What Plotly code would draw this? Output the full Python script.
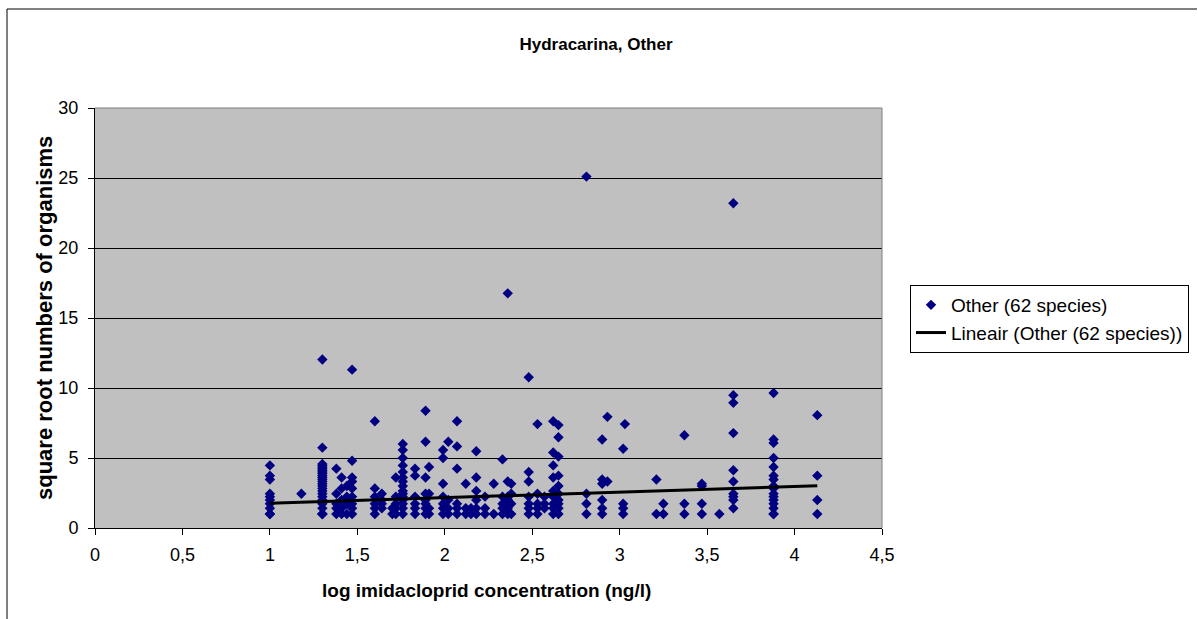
import plotly.graph_objects as go

# ---- data (log imidacloprid concentration, sqrt numbers of organisms) ----
x_log = (
    [1.0] * 10 + [1.18] + [1.3] * 25 + [1.38] * 5 + [1.41] * 5 + [1.44] * 4 + [1.47] * 9
    + [1.6] * 6 + [1.64] * 4 + [1.7] * 2 + [1.72] * 5 + [1.76] * 15 + [1.83] * 6
    + [1.89] * 8 + [1.91] * 4 + [1.99] * 7 + [2.02] * 4 + [2.07] * 6 + [2.12] * 3
    + [2.15] * 2 + [2.18] * 6 + [2.23] * 3 + [2.28] * 2 + [2.33] * 5 + [2.36] * 7
    + [2.38] * 4 + [2.48] * 7 + [2.53] * 5 + [2.57] * 3 + [2.62] * 9 + [2.65] * 10
    + [2.81] * 4 + [2.90] * 6 + [2.93] * 2 + [3.02] * 4 + [3.03] * 1 + [3.21] * 2
    + [3.25] * 2 + [3.37] * 3 + [3.47] * 4 + [3.57] * 1 + [3.65] * 10 + [3.88] * 16
    + [4.13] * 4
)
y_sqrt = [
    4.47, 3.74, 3.46, 2.45, 2.24, 2.0, 1.73, 1.41, 1.0, 1.0,                 # 1.0
    2.45,                                                                    # 1.18
    12.04, 5.74, 4.58, 4.47, 4.36, 4.24, 4.12, 4.0, 3.87, 3.74, 3.61, 3.46,
    3.32, 3.16, 3.0, 2.83, 2.65, 2.45, 2.24, 2.0, 1.73, 1.41, 1.0, 1.0, 1.0,  # 1.3
    4.24, 2.45, 1.73, 1.41, 1.0,                                             # 1.38
    3.61, 2.83, 2.0, 1.41, 1.0,                                              # 1.41
    3.0, 2.24, 1.73, 1.0,                                                    # 1.44
    11.31, 4.8, 3.61, 3.32, 2.83, 2.24, 1.73, 1.41, 1.0,                     # 1.47
    7.62, 2.83, 2.24, 1.73, 1.41, 1.0,                                       # 1.6
    2.45, 2.0, 1.73, 1.41,                                                   # 1.64
    1.41, 1.0,                                                               # 1.7
    3.61, 2.24, 1.73, 1.41, 1.0,                                             # 1.72
    6.0, 5.57, 5.0, 4.47, 4.0, 3.61, 3.32, 3.0, 2.65, 2.45, 2.24, 2.0,
    1.73, 1.41, 1.0,                                                         # 1.76
    4.24, 3.74, 2.24, 1.73, 1.41, 1.0,                                       # 1.83
    8.37, 6.16, 3.61, 2.45, 2.0, 1.73, 1.41, 1.0,                            # 1.89
    4.36, 2.45, 1.41, 1.0,                                                   # 1.91
    5.57, 5.0, 3.16, 2.24, 1.73, 1.41, 1.0,                                  # 1.99
    6.16, 2.0, 1.41, 1.0,                                                    # 2.02
    7.62, 5.83, 4.24, 1.73, 1.41, 1.0,                                       # 2.07
    3.16, 1.41, 1.0,                                                         # 2.12
    1.41, 1.0,                                                               # 2.15
    5.48, 3.61, 2.65, 2.0, 1.41, 1.0,                                        # 2.18
    2.24, 1.41, 1.0,                                                         # 2.23
    3.16, 1.0,                                                               # 2.28
    4.9, 2.24, 1.73, 1.41, 1.0,                                              # 2.33
    16.76, 3.32, 2.24, 2.0, 1.73, 1.41, 1.0,                                 # 2.36
    3.16, 2.45, 1.73, 1.0,                                                   # 2.38
    10.77, 4.0, 3.32, 2.24, 1.73, 1.41, 1.0,                                 # 2.48
    7.42, 2.45, 1.73, 1.41, 1.0,                                             # 2.53
    2.24, 1.73, 1.41,                                                        # 2.57
    7.62, 5.39, 4.47, 3.61, 2.65, 2.24, 1.73, 1.41, 1.0,                     # 2.62
    7.35, 6.48, 5.1, 3.74, 3.0, 2.45, 2.0, 1.73, 1.41, 1.0,                  # 2.65
    25.1, 2.45, 1.73, 1.0,                                                   # 2.81
    6.32, 3.46, 3.16, 2.0, 1.41, 1.0,                                        # 2.90
    7.94, 3.32,                                                              # 2.93
    5.66, 1.73, 1.41, 1.0,                                                   # 3.02
    7.42,                                                                    # 3.03
    3.46, 1.0,                                                               # 3.21
    1.73, 1.0,                                                               # 3.25
    6.63, 1.73, 1.0,                                                         # 3.37
    3.16, 3.0, 1.73, 1.0,                                                    # 3.47
    1.0,                                                                     # 3.57
    23.2, 9.49, 8.94, 6.78, 4.12, 3.32, 2.45, 2.24, 2.0, 1.41,               # 3.65
    9.64, 6.32, 6.08, 5.0, 4.36, 3.74, 3.46, 3.0, 2.83, 2.45, 2.24, 2.0,
    1.73, 1.41, 1.0, 1.0,                                                    # 3.88
    8.06, 3.74, 2.0, 1.0,                                                    # 4.13
]

trend_x = [1.0, 4.13]
trend_y = [1.76, 3.02]

x_tick_vals = [0, 0.5, 1, 1.5, 2, 2.5, 3, 3.5, 4, 4.5]
x_tick_text = ["0", "0,5", "1", "1,5", "2", "2,5", "3", "3,5", "4", "4,5"]
y_tick_vals = [0, 5, 10, 15, 20, 25, 30]

series_name = "Other (62 species)"
trend_name = "Lineair (Other (62 species))"
chart_title = "Hydracarina, Other"
x_title = "log imidacloprid concentration (ng/l)"
y_title = "square root numbers of organisms"

FONT = "Liberation Sans, Arial, sans-serif"

fig = go.Figure()
fig.add_trace(go.Scatter(
    x=x_log, y=y_sqrt, mode="markers", name=series_name,
    marker=dict(symbol="diamond", size=8, color="#000080",
                line=dict(width=0)),
))
fig.add_trace(go.Scatter(
    x=trend_x, y=trend_y, mode="lines", name=trend_name,
    line=dict(color="black", width=3),
))

fig.update_layout(
    width=1198, height=619,
    margin=dict(l=95, r=316, t=108, b=91, autoexpand=False),
    paper_bgcolor="white",
    plot_bgcolor="#C0C0C0",
    font=dict(family=FONT, size=18, color="black"),
    title=dict(text="<b>" + chart_title + "</b>", x=596 / 1198, xref="container",
               xanchor="center", y=1 - 44 / 619, yref="container",
               yanchor="middle", font=dict(size=17, family=FONT)),
    showlegend=True,
    legend=dict(x=(910 - 95) / 787, xanchor="left", y=(528 - 285) / 420,
                yanchor="top", bgcolor="white", bordercolor="black",
                borderwidth=1, font=dict(size=19, family=FONT),
                tracegroupgap=0, itemwidth=30),
    xaxis=dict(range=[0, 4.5], tickvals=x_tick_vals, ticktext=x_tick_text,
               showgrid=False, zeroline=False, showline=True,
               linecolor="black", linewidth=1, ticks="outside", ticklen=6,
               tickcolor="black", ticklabelstandoff=4,
               tickfont=dict(size=18)),
    yaxis=dict(range=[0, 30], tickvals=y_tick_vals, showgrid=True,
               gridcolor="black", gridwidth=1, zeroline=False, showline=True,
               linecolor="black", linewidth=1, ticks="outside", ticklen=6,
               tickcolor="black", ticklabelstandoff=6,
               tickfont=dict(size=18)),
)

# plot-area border (grey) on top and right
fig.add_shape(type="line", xref="paper", yref="paper", x0=0, x1=1, y0=1, y1=1,
              line=dict(color="#808080", width=1), layer="above")
fig.add_shape(type="line", xref="paper", yref="paper", x0=1, x1=1, y0=0, y1=1,
              line=dict(color="#808080", width=1), layer="above")
# chart-area border
fig.add_shape(type="line", xref="paper", yref="paper",
              x0=(7 - 95) / 787, x1=(1197 - 95) / 787,
              y0=(528 - 9) / 420, y1=(528 - 9) / 420,
              line=dict(color="black", width=1))
fig.add_shape(type="line", xref="paper", yref="paper",
              x0=(7 - 95) / 787, x1=(7 - 95) / 787,
              y0=(528 - 9) / 420, y1=(528 - 619) / 420,
              line=dict(color="black", width=1))

# axis titles
fig.add_annotation(text="<b>" + x_title + "</b>", xref="paper", yref="paper",
                   x=(486 - 95) / 787, y=(528 - 590) / 420, showarrow=False,
                   xanchor="center", yanchor="middle", font=dict(size=19))
fig.add_annotation(text="<b>" + y_title + "</b>", xref="paper", yref="paper",
                   x=(44 - 95) / 787, y=(528 - 318) / 420, showarrow=False,
                   textangle=-90, xanchor="center", yanchor="middle",
                   font=dict(size=22))

fig.write_html("out.html", config={"displayModeBar": False},
               post_script="document.body.style.margin='0';"
                           "document.body.style.overflow='hidden';")
